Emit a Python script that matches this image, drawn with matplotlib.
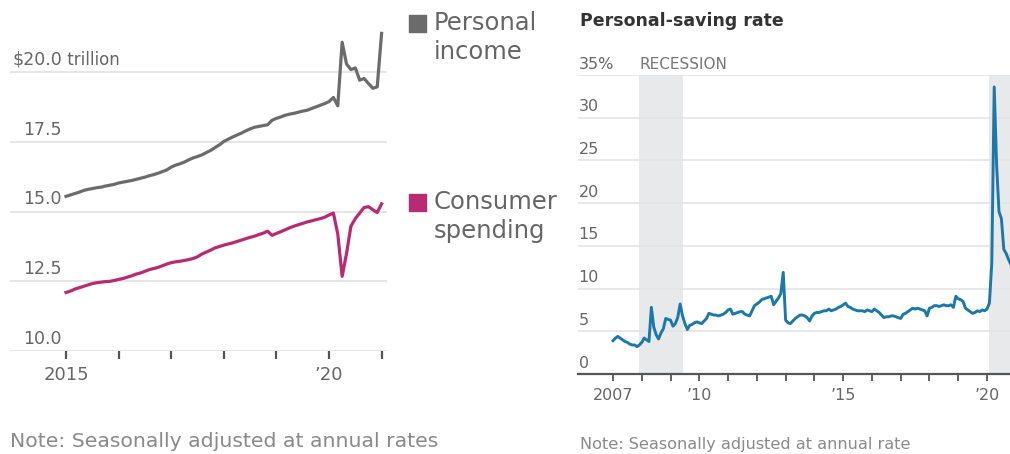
import matplotlib.pyplot as plt
from matplotlib.patches import Rectangle

# monthly data, $ trillion at annual rates, Jan 2015 - Jan 2021
income = [15.55, 15.60, 15.65, 15.70, 15.76, 15.80, 15.83, 15.86, 15.88, 15.92, 15.95, 15.98,
          16.03, 16.06, 16.09, 16.12, 16.16, 16.20, 16.24, 16.29, 16.33, 16.38, 16.44, 16.50,
          16.60, 16.67, 16.72, 16.78, 16.86, 16.93, 16.98, 17.04, 17.12, 17.20, 17.30, 17.40,
          17.52, 17.60, 17.68, 17.75, 17.82, 17.90, 17.97, 18.03, 18.06, 18.09, 18.12, 18.28,
          18.35, 18.40, 18.46, 18.50, 18.53, 18.57, 18.61, 18.64, 18.70, 18.76, 18.82, 18.88,
          18.95, 19.10, 18.80, 21.08, 20.30, 20.10, 20.16, 19.72, 19.78, 19.60, 19.43, 19.48,
          21.40]
spending = [12.10, 12.15, 12.22, 12.27, 12.32, 12.37, 12.42, 12.45, 12.47, 12.49, 12.50, 12.53,
            12.57, 12.60, 12.65, 12.70, 12.76, 12.80, 12.86, 12.92, 12.96, 13.00, 13.06, 13.12,
            13.17, 13.20, 13.22, 13.25, 13.28, 13.32, 13.38, 13.48, 13.55, 13.62, 13.70, 13.75,
            13.80, 13.84, 13.88, 13.93, 13.98, 14.03, 14.08, 14.12, 14.18, 14.23, 14.30, 14.15,
            14.22, 14.28, 14.35, 14.42, 14.48, 14.53, 14.58, 14.63, 14.67, 14.71, 14.75, 14.80,
            14.88, 14.95, 14.20, 12.68, 13.50, 14.48, 14.75, 14.95, 15.15, 15.18, 15.07, 14.97,
            15.28]

# personal-saving rate, %, Jan 2007 - Nov 2020
saving = [3.9, 4.2, 4.4, 4.2, 4.0, 3.8, 3.7, 3.5, 3.4, 3.4, 3.2, 3.4,
          3.7, 4.2, 4.0, 3.8, 7.8, 5.5, 4.6, 4.1, 4.8, 5.3, 6.5, 6.4,
          6.3, 5.6, 5.9, 6.6, 8.2, 6.8, 5.9, 5.2, 5.7, 5.8, 6.0, 6.1,
          6.0, 5.9, 6.2, 6.5, 7.1, 7.0, 6.9, 6.9, 6.8, 6.9, 7.0, 7.2,
          7.5, 7.6, 7.0, 7.1, 7.2, 7.3, 7.3, 7.0, 6.9, 6.8, 7.4, 8.0,
          8.2, 8.4, 8.7, 8.8, 8.9, 9.0, 9.1, 8.1, 8.5, 8.9, 9.4, 11.9,
          6.3, 6.0, 5.9, 6.2, 6.5, 6.7, 6.9, 6.9, 6.8, 6.6, 6.2, 6.8,
          7.1, 7.2, 7.2, 7.3, 7.4, 7.4, 7.6, 7.4, 7.5, 7.6, 7.8, 7.9,
          8.1, 8.3, 7.9, 7.8, 7.6, 7.5, 7.4, 7.4, 7.4, 7.3, 7.5, 7.4,
          7.3, 7.6, 7.4, 7.2, 6.9, 6.6, 6.7, 6.7, 6.8, 6.8, 6.7, 6.6,
          6.5, 7.0, 7.1, 7.3, 7.5, 7.7, 7.6, 7.7, 7.6, 7.5, 7.4, 6.8,
          7.7, 7.8, 8.0, 8.0, 7.9, 8.0, 8.1, 8.0, 8.0, 8.1, 7.8, 9.1,
          8.8, 8.7, 8.5, 7.7, 7.5, 7.3, 7.1, 7.2, 7.4, 7.3, 7.5, 7.4,
          7.6, 8.3, 13.0, 33.6, 24.5, 19.0, 18.2, 14.6, 14.1, 13.4, 12.8]

recessions = [(2007 + 11 / 12, 2009 + 5 / 12), (2020 + 1 / 12, 2022)]

left_yticks = [10, 12.5, 15, 17.5, 20]
left_ylabels = ['10.0', '12.5', '15.0', '17.5', '$20.0']
right_yticks = [0, 5, 10, 15, 20, 25, 30, 35]
right_ylabels = ['0', '5', '10', '15', '20', '25', '30', '35%']

GRAY = '#6b6b6b'
MAGENTA = '#b82a72'
BLUE = '#1b78a8'
TXT = '#666666'
GRID = '#e4e4e4'

plt.rcParams['font.family'] = 'DejaVu Sans'

fig = plt.figure(figsize=(10.1, 4.54), dpi=100)

# ---- left: income vs spending ----
ax1 = fig.add_axes([10 / 1010, 1 - 351 / 454, 377 / 1010, 326 / 454])
x1 = [2015 + i / 12 for i in range(len(income))]
ax1.plot(x1, income, color=GRAY, lw=2.3, solid_joinstyle='round', zorder=3)
ax1.plot(x1, spending, color=MAGENTA, lw=2.3, solid_joinstyle='round', zorder=3)
ax1.set_xlim(2015 - 56 / 52.6, 2015 + 321 / 52.6)
ax1.set_ylim(10, 21.7)
ax1.set_yticks(left_yticks)
ax1.yaxis.set_tick_params(length=0, labelleft=False)
ax1.grid(axis='y', color=GRID, lw=1.3)
ax1.set_xticks(range(2015, 2022))
ax1.set_xticklabels(['2015', '', '', '', '', '\u201920', ''])
ax1.tick_params(axis='x', length=6, width=1.6, color='#555555', pad=5,
                labelsize=13, labelcolor=TXT)
for s in ax1.spines.values():
    s.set_visible(False)
for v, lab in zip(left_yticks, left_ylabels):
    ax1.annotate(lab, xy=(0.138, v), xycoords=('axes fraction', 'data'),
                 xytext=(0, 2.5), textcoords='offset points',
                 ha='right', va='bottom', fontsize=12.5, color=TXT)
ax1.annotate(' trillion', xy=(0.138, 20), xycoords=('axes fraction', 'data'),
             xytext=(0, 2.5), textcoords='offset points',
             ha='left', va='bottom', fontsize=12, color=TXT)

# legend blocks
fig.patches.append(Rectangle((409 / 1010, 1 - 32 / 454), 17 / 1010, 17 / 454,
                             transform=fig.transFigure, color=GRAY))
fig.patches.append(Rectangle((409 / 1010, 1 - 211 / 454), 17 / 1010, 17 / 454,
                             transform=fig.transFigure, color=MAGENTA))
fig.text(434 / 1010, 1 - 11 / 454, 'Personal\nincome', fontsize=17.5, color=TXT,
         va='top', linespacing=1.25)
fig.text(434 / 1010, 1 - 190 / 454, 'Consumer\nspending', fontsize=17.5, color=TXT,
         va='top', linespacing=1.25)
fig.text(10 / 1010, 1 - 447 / 454, 'Note: Seasonally adjusted at annual rates',
         fontsize=14.7, color='#8a8a8a', va='baseline')

# ---- right: saving rate ----
ax2 = fig.add_axes([578 / 1010, 1 - 374 / 454, 432 / 1010, 299 / 454])
x2 = [2007 + i / 12 for i in range(len(saving))]
for a, b in recessions:
    ax2.axvspan(a, b, color='#e8e9eb', lw=0, zorder=0)
ax2.plot(x2, saving, color=BLUE, lw=2.1, solid_joinstyle='round', zorder=3)
ax2.set_xlim(2007 - 35 / 28.77, 2007 + 397 / 28.77)
ax2.set_ylim(0, 35)
ax2.set_yticks(right_yticks)
ax2.yaxis.set_tick_params(length=0, labelleft=False)
ax2.grid(axis='y', color=GRID, lw=1.2)
ax2.set_xticks(range(2007, 2021))
xl = [''] * 14
xl[0], xl[3], xl[8], xl[13] = '2007', '\u201910', '\u201915', '\u201920'
ax2.set_xticklabels(xl)
ax2.tick_params(axis='x', length=5, width=1.3, color='#555555', pad=5,
                labelsize=11.5, labelcolor=TXT)
for k in ['top', 'left', 'right']:
    ax2.spines[k].set_visible(False)
ax2.spines['bottom'].set_color('#555555')
ax2.spines['bottom'].set_linewidth(1.6)
ax2.spines['bottom'].set_zorder(4)
for v, lab in zip(right_yticks, right_ylabels):
    ax2.annotate(lab, xy=(0, v), xycoords=('axes fraction', 'data'),
                 xytext=(0.5, 2.5), textcoords='offset points',
                 ha='left', va='bottom', fontsize=11.5, color=TXT)
ax2.annotate('RECESSION', xy=(recessions[0][0], 35), xycoords='data',
             xytext=(0, 2.5), textcoords='offset points',
             ha='left', va='bottom', fontsize=11, color='#777777')

fig.text(580 / 1010, 1 - 26 / 454, 'Personal-saving rate', fontsize=12.5,
         fontweight='bold', color='#333333', va='baseline')
fig.text(580 / 1010, 1 - 449 / 454, 'Note: Seasonally adjusted at annual rate',
         fontsize=11.6, color='#8a8a8a', va='baseline')

fig.savefig('out.png', dpi=100)
